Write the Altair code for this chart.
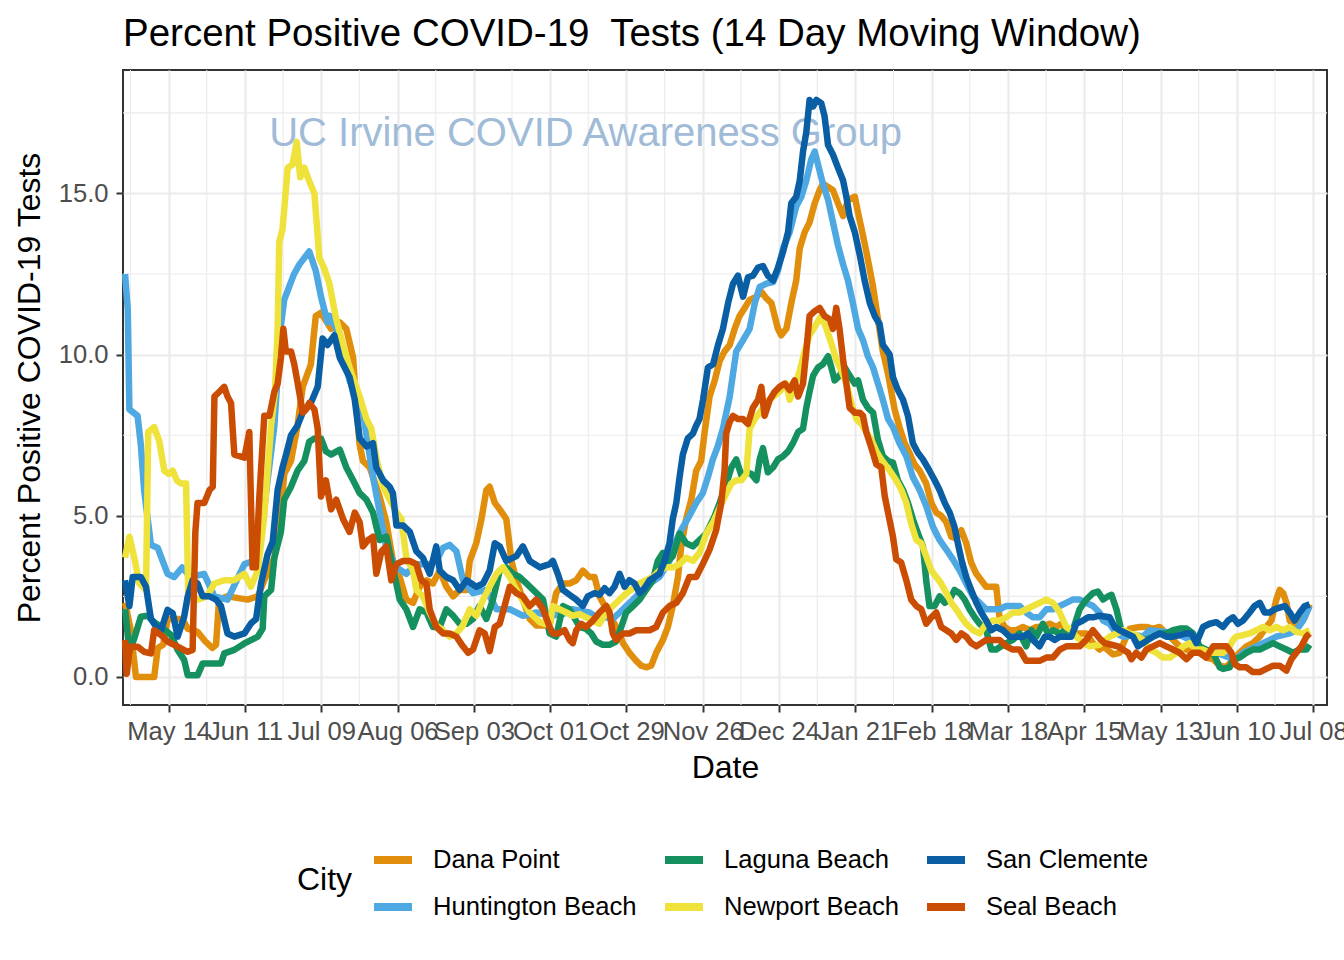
import altair as alt
import pandas as pd

# ---------------- data (day offset from 2020-04-28, percent positive) ----------------
BASE_DATE = "2020-04-28"

dana_point = [
    (0, 2.3), (2, 1.5), (4, 0.0), (10.7, 0.0), (12, 0.9), (14, 1.0), (15.6, 1.8), (18.1, 1.8),
    (21, 1.8), (23, 1.5), (26.6, 1.4), (29.5, 1.1), (32, 0.9), (33.4, 1.0), (34.5, 2.4), (37.6, 2.5),
    (45, 2.4), (48.7, 2.5), (51.1, 3.0), (54.8, 3.7), (57.2, 5.0), (58.4, 6.3), (60.9, 6.7), (63.3, 7.8),
    (65.2, 9.0), (68.2, 9.7), (70, 11.2), (71.9, 11.3), (75.6, 10.8),
    (78.8, 11.0), (81.2, 10.8), (83.7, 9.9), (84.9, 8.4), (86.1, 7.2), (87.3, 6.7), (89.8, 6.5), (93.4, 5.6),
    (95.9, 4.8), (98.3, 3.6), (100.8, 3.1), (103.2, 2.4), (105.7, 2.3), (108.1, 2.8), (110.6, 3.0), (113, 2.9),
    (115.5, 3.3), (117.9, 2.8), (120.4, 2.5), (122.8, 2.7), (125.3, 2.7), (126.5, 3.6), (128.9, 4.15),
    (130.8, 4.9), (132.6, 5.8), (133.8, 5.9), (135.7, 5.4), (137.5, 5.2), (139.9, 4.9), (141.8, 3.6),
    (143.6, 3.0), (146, 2.4), (148.5, 1.8), (150.9, 1.6), (155.8, 1.6),
    (158.2, 2.6), (160.7, 2.9), (163.1, 2.9), (165.6, 3.0), (168, 3.3), (170.4, 3.1), (172.3, 3.1),
    (174.1, 2.5), (176, 2.2), (177.8, 1.9), (179.6, 1.65), (181.5, 1.35), (182.7, 1.05), (185.1, 0.75),
    (187.6, 0.5), (189.4, 0.35), (191.2, 0.3), (193.1, 0.35), (194.9, 0.75), (197.4, 1.15), (199.2, 1.55),
    (201, 2.2), (202.9, 3.1), (204.1, 4.05), (205.9, 4.9), (207.8, 5.5), (209.6, 6.4), (211.4, 6.7),
    (212.7, 7.6), (214.5, 8.7), (216.4, 9.2), (218.2, 9.8), (220, 10.1), (221.9, 10.3), (223.7, 10.8),
    (225.5, 11.2), (227.4, 11.45), (229.2, 11.7), (231.7, 11.8), (233.5, 11.95), (235.3, 11.75),
    (237.2, 11.6), (238.4, 11.2), (239.6, 10.8), (240.8, 10.6), (242.7, 10.8), (244.5, 11.6), (246.3, 12.3),
    (247.6, 13.3), (249.4, 13.8), (251.2, 14.1), (253.1, 14.7), (254.9, 15.1), (256.1, 15.3), (258, 15.2),
    (259.8, 15.1), (261.6, 14.7), (263.5, 14.3), (265.3, 14.8), (267.8, 14.9), (269, 14.4), (270.8, 13.7),
    (272.6, 12.95), (274.5, 12.1), (276.3, 11.1), (278.1, 10.1), (280, 9.4),
    (282.4, 8.3), (284.2, 7.75), (286.1, 7.25), (287.9, 6.95), (289.7, 6.6), (291.6, 6.4), (294, 6.0),
    (295.9, 5.4), (297.7, 5.1), (299.5, 5.0), (301.4, 4.8), (303.2, 4.35), (305, 4.3), (306.9, 4.55),
    (308.7, 4.15), (310.5, 3.55), (312.4, 3.2), (314.2, 3.0), (316, 2.8), (317.9, 2.8), (319.7, 2.8),
    (320.9, 1.85), (322.8, 1.55), (324.6, 1.45), (327.1, 1.45), (329.5, 1.55), (332, 1.45), (334.4, 1.55),
    (336.8, 1.55), (339.3, 1.65), (341.7, 1.55), (343.6, 1.65), (345.4, 1.45), (347.8, 1.35), (350.3, 1.35),
    (352.7, 1.35), (355.2, 1.05), (357.6, 0.85),
    (359, 0.95), (362.6, 0.7), (365, 0.75), (366.2, 1.0), (368.7, 1.5), (372.3, 1.55), (374.8, 1.55),
    (377.2, 1.5), (379.7, 1.55), (382.1, 1.35), (384.6, 1.15), (387, 0.95), (389.5, 0.85), (391.9, 0.75),
    (394.4, 0.75), (396.8, 0.6), (399.3, 0.55), (401.7, 0.35), (404.2, 0.3), (406.6, 0.55), (409, 0.75),
    (411.5, 0.95), (413.9, 1.05), (416.4, 1.25), (418.8, 1.55), (420.7, 1.75), (422.5, 2.4), (423.7, 2.7),
    (425, 2.6), (426.2, 2.3), (427.4, 1.75), (429.2, 1.55), (431.1, 1.75), (432.9, 1.85), (434.7, 2.25),
]

huntington_beach = [
    (0, 12.5), (1, 11.4), (1.6, 8.3), (4.6, 8.1), (5.8, 7.2), (7, 5.8), (9.5, 4.1), (12, 4.0), (15.6, 3.2),
    (18, 3.1), (21, 3.4), (24, 3.1), (29, 3.2), (32.8, 2.5), (37.6, 2.4), (43.8, 3.5), (47.4, 3.6), (51, 5.2),
    (54.8, 7.8), (57.2, 10.9), (58.4, 11.7), (62, 12.5), (64, 12.8), (67.6, 13.2), (70, 12.6), (71.9, 11.8),
    (74.3, 11.0), (75.1, 11.2), (77.5, 10.8), (82.4, 9.2), (87.3, 8.2), (91, 6.2), (93.5, 5.1), (95.9, 4.0),
    (99.6, 3.4), (103.2, 3.2), (106.9, 3.5), (111.8, 3.5), (114.2, 3.6), (116.7, 4.0), (119.1, 4.1),
    (121.6, 3.9), (124, 3.0), (127.7, 2.6), (132.6, 2.7), (136.3, 2.1), (141.2, 2.1), (146, 1.9), (151, 2.0),
    (155.8, 1.9), (160.7, 1.95), (164.3, 2.1), (167.4, 2.05), (170.4, 2.0), (174.1, 1.8), (176.6, 1.85),
    (179, 1.8), (181.5, 2.0), (183.9, 2.2), (186.4, 2.4), (188.8, 2.6), (192.5, 2.9), (196.1, 3.1),
    (199.8, 3.6), (202.3, 4.25), (204.7, 4.65), (207.1, 5.0), (209.6, 5.4), (212, 5.7), (213.9, 6.2),
    (215.7, 6.75), (217.5, 7.15), (219.4, 7.7), (221.9, 8.7), (224.3, 10.1), (226.8, 10.45), (229.2, 10.8),
    (231.1, 11.6), (232.9, 12.1), (235.3, 12.2), (237.8, 12.25), (239.6, 12.6), (241.5, 13.3), (243.9, 13.8),
    (246.3, 14.6), (248.2, 14.9), (250, 15.4), (251.8, 16.05), (253.1, 16.3), (254.3, 15.9), (256.1, 15.3),
    (258, 14.8), (259.8, 14.1), (261.6, 13.4), (263.5, 12.8), (265.3, 12.3), (267.1, 11.6), (269, 10.8),
    (270.8, 10.45), (272.6, 9.95), (274.5, 9.6), (276.3, 9.1), (278.1, 8.6), (280, 8.0),
    (281.8, 7.75), (284.2, 7.25), (286.7, 6.85), (289.1, 6.2), (291.6, 5.8), (294, 5.3), (296.5, 4.65),
    (298.9, 4.25), (301.4, 3.95), (303.8, 3.65), (306.3, 3.3), (308.7, 2.9), (311.2, 2.5), (313.6, 2.3),
    (316, 2.1), (318.5, 2.1), (320.9, 2.1), (323.4, 2.2), (325.8, 2.2), (328.3, 2.2), (330.7, 2.0),
    (333.2, 1.85), (335.6, 1.85), (338.1, 2.1), (340.5, 2.1), (343, 2.2), (345.4, 2.3), (347.8, 2.4),
    (350.3, 2.4), (352.7, 2.3), (355.2, 2.2), (357.6, 2.0),
    (358.9, 1.75), (361.3, 1.65), (363.8, 1.35), (366.2, 1.25), (371.1, 1.3), (373.6, 1.25), (376, 1.45),
    (380.9, 1.4), (385.8, 1.35), (388.3, 1.25), (390.7, 1.15), (393.1, 0.95), (395.6, 0.85), (400.5, 0.75),
    (405.4, 0.6), (407.8, 0.55), (410.3, 0.75), (412.7, 0.85), (415.2, 0.95), (417.6, 1.05), (420.1, 1.15),
    (422.5, 1.25), (427.4, 1.35), (429.8, 1.45), (432.3, 1.75), (434.7, 2.2),
]

laguna_beach = [
    (0, 2.1), (1.6, 0.8), (3.4, 1.2), (5.8, 1.87), (8.3, 1.9), (10.7, 1.7), (13.2, 1.56), (16.9, 1.3),
    (19.3, 0.84), (21.7, 0.53), (23, 0.05), (26.6, 0.05), (28.5, 0.42), (31, 0.42), (35.2, 0.42),
    (36.4, 0.73), (40.1, 0.84), (43.8, 1.04), (48.7, 1.25), (50.5, 1.5), (51.1, 2.5), (53.6, 2.7),
    (54.8, 3.7), (57.2, 4.5), (58.4, 5.5), (60.9, 5.9), (63.3, 6.4), (65.8, 6.7), (67.6, 7.3), (69.5, 7.4),
    (71.9, 7.4), (73.7, 7.0), (75.6, 6.9),
    (78.8, 7.05), (81.2, 6.5), (83.7, 6.1), (86.1, 5.7), (88.6, 5.5), (91, 5.1), (93.4, 4.25), (95.9, 4.35),
    (98.3, 3.4), (100.8, 2.4), (103.2, 2.1), (105.7, 1.55), (108.1, 2.1), (110.6, 2.0), (113, 1.55),
    (115.5, 1.55), (117.9, 2.1), (120.4, 1.9), (122.8, 1.65), (125.3, 1.65), (127.7, 1.8), (130.1, 2.2),
    (132.6, 1.8), (135, 2.4), (137.5, 3.3), (139.9, 3.4), (142.4, 3.2), (144.8, 3.1), (147.3, 2.9),
    (151, 2.6), (153.4, 2.4), (155.8, 1.35),
    (158.2, 1.25), (160.7, 2.2), (163.1, 2.1), (166.8, 1.55), (169, 1.5), (171.1, 1.35), (172.9, 1.1),
    (175.3, 1.0), (177.8, 1.0), (180.2, 1.1), (182.1, 1.55), (183.9, 2.0), (186.4, 2.2), (188.8, 2.4),
    (191.2, 2.7), (193.7, 3.0), (195.5, 3.6), (197.4, 3.85), (199.2, 3.6), (201, 3.75), (203.5, 4.45),
    (205.9, 4.15), (208.4, 4.05), (210.8, 4.25), (213.3, 4.45), (216.4, 5.0), (218.2, 5.4), (220.7, 6.0),
    (222.5, 6.5), (224.3, 6.75), (226.2, 6.25), (228, 6.35), (229.8, 6.3), (231.7, 6.1), (232.9, 6.75),
    (234.1, 7.1), (235.9, 6.35), (237.8, 6.5), (239.6, 6.75), (241.5, 6.85), (243.3, 7.0), (245.1, 7.25),
    (247, 7.6), (248.8, 7.7), (250, 8.35), (251.2, 8.85), (252.5, 9.35), (254.3, 9.6), (256.1, 9.7),
    (258, 9.95), (259.2, 9.6), (260.4, 9.2), (262.2, 9.35), (264.1, 9.6), (265.9, 9.35), (267.8, 9.1),
    (269, 9.2), (270.8, 8.6), (272.6, 8.35), (274.5, 8.2), (276.3, 7.35), (278.1, 6.85), (280, 6.7),
    (281.8, 6.65), (283.6, 6.1), (285.5, 5.8), (287.3, 5.4), (289.1, 4.9), (291, 4.45), (292.8, 4.05),
    (294, 3.0), (295.2, 2.2), (297.1, 2.2), (298.9, 2.5), (300.8, 2.3), (302.6, 2.4), (304.4, 2.7),
    (306.3, 2.6), (308.1, 2.4), (309.9, 2.1), (311.8, 1.85), (313.6, 1.65), (316, 1.45), (317.9, 0.85),
    (319.7, 0.85), (321.5, 0.95), (323.4, 1.05), (325.8, 1.15), (328.3, 1.35), (330.7, 0.95), (332.6, 1.45),
    (334.4, 1.25), (336.8, 1.65), (338.7, 1.35), (340.5, 1.45), (343, 1.35), (345.4, 1.45), (347.8, 1.45),
    (350.3, 2.1), (352.7, 2.4), (355.2, 2.6), (357, 2.65),
    (358.9, 2.4), (360.7, 2.5), (362, 2.55), (363.8, 2.1), (365.6, 1.45), (367.5, 1.35), (369.9, 1.3),
    (372.3, 1.2), (374.8, 1.15), (377.2, 1.25), (379.7, 1.35), (382.1, 1.35), (384.6, 1.45), (387, 1.5),
    (389.5, 1.5), (391.9, 1.35), (394.4, 0.95), (396.8, 0.85), (399.3, 0.75), (401.7, 0.3), (402.9, 0.25),
    (405.4, 0.3), (406.6, 0.55), (409, 0.6), (411.5, 0.75), (413.9, 0.85), (416.4, 0.85), (418.8, 0.95),
    (421.3, 1.05), (423.7, 0.95), (426.2, 0.85), (428.6, 0.75), (431.1, 0.85), (433.5, 0.85), (434.7, 1.0),
]

newport_beach = [
    (0, 3.7), (1.6, 4.35), (3.4, 3.7), (5.2, 2.9), (7.7, 2.7), (8.5, 7.6), (10.7, 7.75), (12.6, 7.3),
    (14.4, 6.4), (16, 6.3), (17.5, 6.4), (19, 6.1), (20.5, 6.0), (22.4, 6.0), (23.2, 2.5), (26.6, 2.4),
    (30, 2.5), (32.8, 2.9), (36.4, 3.0), (40, 3.0), (43.8, 3.2), (46.2, 2.8), (48.7, 3.3), (51.1, 5.0),
    (53.6, 7.8), (55, 8.8), (56, 10.8), (56.6, 13.5), (57.8, 13.9), (59.7, 15.8), (61.5, 15.9), (63, 16.6),
    (64.3, 15.5), (65.8, 15.8), (67.5, 15.4), (69.5, 15.0), (71.3, 13.0), (73, 12.7), (75, 12.2), (76.8, 11.4),
    (77.5, 11.1), (80, 10.3), (82.4, 9.6), (86.1, 8.7), (88.6, 8.0), (90.4, 7.7), (92.2, 6.8), (94.7, 5.9),
    (97.1, 5.5), (99.6, 5.1), (101.4, 4.9), (103.2, 3.7), (105.7, 3.3), (106.9, 2.7), (109.3, 2.5),
    (111.8, 2.0), (114.2, 1.6), (116.7, 1.45), (119.1, 1.25), (121.6, 1.35), (124, 1.6), (126.5, 2.1),
    (128.9, 1.9), (131.4, 2.4), (133.8, 2.8), (136.3, 3.2), (138.7, 3.4), (141.2, 3.1), (143.6, 2.7),
    (148.5, 2.0), (152.2, 1.7), (155.8, 1.6),
    (157, 2.2), (159.4, 2.1), (161.9, 2.0), (164.3, 1.9), (166.8, 1.95), (169.2, 1.85), (171.7, 1.75),
    (174.1, 1.65), (176.6, 2.0), (179, 2.2), (181.5, 2.4), (184, 2.6), (186.4, 2.75), (188.8, 2.9),
    (191.2, 3.0), (193.7, 3.1), (196.1, 3.3), (198.6, 3.4), (201, 3.4), (203.5, 3.5), (205.9, 3.7),
    (208.4, 3.6), (210.8, 3.85), (213.3, 4.45), (215.8, 4.8), (218.2, 5.25), (220.7, 5.7), (222.5, 6.0),
    (224.3, 6.1), (226.2, 6.1), (228, 6.3), (229.2, 7.7), (231.1, 8.0), (232.9, 8.2), (235.3, 8.5),
    (237.8, 8.7), (240.2, 8.85), (242.7, 9.1), (243.9, 8.6), (245.7, 9.0), (247.6, 9.5), (249.4, 10.1),
    (251.2, 10.6), (253.7, 10.95), (255.5, 11.2), (257.4, 10.8), (259.2, 10.35), (261, 9.85), (262.9, 9.5),
    (264.7, 9.1), (266.5, 8.5), (268.4, 8.0), (270.2, 7.85), (272, 7.6), (273.9, 7.35), (275.7, 7.0),
    (277.5, 6.75), (280.6, 6.4), (283, 6.1), (284.9, 5.8), (286.7, 5.4), (288.5, 4.75), (290.4, 4.25),
    (292.2, 4.15), (294, 3.75), (295.9, 3.3), (297.7, 3.1), (299.5, 2.9), (301.4, 2.6), (303.2, 2.3),
    (305, 2.1), (306.9, 1.85), (308.7, 1.65), (311.2, 1.45), (313.6, 1.35), (316, 1.65), (318.5, 1.75),
    (320.9, 1.75), (323.4, 1.85), (325.8, 2.0), (328.3, 2.0), (330.7, 2.1), (333.2, 2.2), (335.6, 2.3),
    (338.1, 2.4), (340.5, 2.3), (343, 2.0), (345.4, 1.55), (347.2, 1.45), (349.1, 1.25), (351.5, 1.05),
    (354, 0.95), (357.6, 1.0),
    (361.3, 1.25), (363.8, 1.35), (366.2, 1.45), (368.7, 1.35), (371.1, 1.3), (373.6, 1.15), (376, 0.85),
    (378.5, 0.75), (380.9, 0.6), (383.4, 0.6), (385.8, 0.75), (388.3, 0.95), (390.7, 1.05), (393.1, 0.85),
    (395.6, 0.85), (398, 0.75), (400.5, 0.75), (402.9, 0.75), (405.4, 0.95), (406.6, 1.15), (407.8, 1.25),
    (410.3, 1.3), (412.7, 1.35), (415.2, 1.45), (417.6, 1.55), (420.1, 1.45), (422.5, 1.55), (425, 1.45),
    (427.4, 1.55), (429.8, 1.4), (432.3, 1.35), (434.7, 1.45),
]

san_clemente = [
    (0, 3.0), (1.6, 2.2), (2.8, 3.1), (5.8, 3.1), (7.7, 2.8), (9.5, 1.8), (11.4, 1.56), (13.2, 1.45),
    (15.6, 2.08), (17.5, 1.98), (19.3, 1.25), (21.7, 1.87), (23, 2.5), (24.8, 3.0), (26.6, 2.9), (28.5, 2.5),
    (31, 2.5), (33.4, 2.4), (35.2, 2.2), (37.6, 1.35), (40.1, 1.25), (43.8, 1.35), (46.2, 1.66), (48.1, 1.8),
    (49.9, 2.9), (52.3, 3.8), (54.2, 4.2), (56, 5.8), (57.8, 6.5), (59.1, 6.9), (60.9, 7.5), (63.3, 7.8),
    (65.2, 8.2), (68.2, 8.5), (70.7, 9.0), (72.5, 10.5), (74.3, 10.3), (76.8, 10.6),
    (78.8, 9.9), (80, 9.7), (82.4, 9.3), (84.3, 8.6), (86.1, 7.4), (88.6, 7.15), (91, 7.25), (92.2, 6.5),
    (94.7, 6.1), (97.1, 5.9), (98.3, 5.7), (99.6, 4.7), (102, 4.7), (104.5, 4.5), (106.9, 3.9), (109.3, 3.7),
    (111.8, 3.2), (114.2, 4.05), (115.5, 3.3), (117.9, 3.1), (120.4, 3.0), (122.8, 2.7), (125.3, 3.0),
    (128.9, 2.8), (131.4, 2.9), (133.8, 3.3), (135.7, 4.15), (137.5, 4.05), (139.9, 3.6), (143.6, 3.75),
    (146, 4.05), (148.5, 3.6), (152.2, 3.4), (155.8, 3.5),
    (157, 3.6), (158.8, 3.2), (160.7, 2.7), (163.1, 2.55), (165.6, 2.4), (168, 2.2), (169.8, 2.5),
    (172.3, 2.6), (174.1, 2.55), (176, 2.75), (177.8, 2.6), (179.6, 2.8), (181.5, 3.2), (183.3, 2.8),
    (185.1, 3.0), (187, 2.9), (188.8, 2.6), (190.6, 2.75), (192.5, 3.0), (194.3, 3.1), (196.1, 3.2),
    (198, 3.6), (199.8, 4.15), (201, 4.9), (202.3, 5.4), (203.5, 6.2), (204.7, 6.9), (206.5, 7.4),
    (208.4, 7.55), (209.6, 7.8), (210.8, 8.0), (212.1, 8.6), (213.9, 9.6), (215.8, 9.7), (217.6, 10.3),
    (219.4, 10.8), (221.3, 11.6), (223.1, 12.2), (224.9, 12.45), (226.8, 11.8), (228.6, 12.4), (230.4, 12.45),
    (232.3, 12.7), (234.1, 12.75), (235.9, 12.45), (237.8, 12.3), (239.6, 12.7), (241.5, 13.2), (243.3, 13.8),
    (244.5, 14.7), (246.3, 14.9), (247.6, 15.4), (248.8, 16.3), (250, 16.9), (251.2, 17.9), (252.5, 17.7),
    (253.7, 17.9), (255.5, 17.8), (256.7, 17.4), (258, 16.5), (259.8, 16.2), (261.6, 15.8), (263.5, 15.4),
    (264.7, 14.9), (265.9, 14.3), (267.8, 13.8), (269.6, 13.1), (271.4, 12.3), (273.3, 11.6), (275.1, 11.2),
    (276.9, 10.95), (278.1, 10.3), (280.6, 10.0),
    (281.8, 9.3), (283.6, 8.9), (285.5, 8.6), (287.3, 8.1), (289.1, 7.25), (291, 6.95), (292.8, 6.75),
    (295.2, 6.4), (297.1, 6.1), (298.9, 5.8), (300.8, 5.4), (302.6, 5.1), (304.4, 4.65), (305.6, 4.15),
    (306.9, 3.65), (308.7, 3.1), (310.5, 2.7), (312.4, 2.3), (314.2, 2.0), (316, 1.75), (317.9, 1.45),
    (319.7, 1.55), (322.2, 1.45), (324.6, 1.25), (327.1, 1.25), (329.5, 1.25), (331.3, 1.35), (333.2, 1.15),
    (335.6, 0.95), (337.5, 1.25), (339.3, 1.25), (341.1, 1.15), (343, 1.25), (345.4, 1.25), (347.2, 1.25),
    (349.1, 1.65), (351.5, 1.75), (353.4, 1.85), (355.2, 1.85), (357.6, 1.9),
    (361.3, 1.85), (363.2, 1.55), (365, 1.45), (367.5, 1.35), (369.9, 1.25), (371.7, 0.95), (373.6, 1.05),
    (375.4, 1.15), (377.2, 1.25), (379.7, 1.35), (382.1, 1.25), (384.6, 1.25), (387, 1.3), (389.5, 1.35),
    (391.3, 1.35), (393.1, 1.05), (395.6, 1.55), (398, 1.65), (400.5, 1.7), (402.9, 1.55), (404.8, 1.75),
    (406.6, 1.85), (408.4, 1.65), (410.3, 1.75), (412.7, 2.0), (414.5, 2.2), (416.4, 2.3), (418.2, 2.0),
    (420.1, 2.0), (421.9, 2.1), (423.7, 2.15), (425.6, 2.2), (427.4, 2.0), (429.2, 1.75), (431.1, 2.0),
    (432.9, 2.2), (434.7, 2.25),
]

seal_beach = [
    (0, 1.15), (0.6, 0.1), (1.8, 0.94), (4.6, 0.94), (7, 0.78), (9.5, 0.73), (10.7, 1.45), (13.2, 1.3),
    (15.6, 1.1), (19.3, 0.94), (23, 0.78), (24.8, 0.84), (25.8, 4.5), (26.6, 5.4), (29.1, 5.4), (31, 5.8),
    (32.2, 5.9), (32.8, 8.7), (34.6, 8.85), (36.4, 9.0), (37.6, 8.7), (38.9, 8.5), (40.1, 6.9), (42, 6.85),
    (43.8, 6.8), (45.6, 7.6), (46.8, 3.4), (48, 3.4), (49.3, 5.6), (51.1, 8.1), (53, 8.1), (54.8, 8.85),
    (56, 9.1), (57.2, 9.9), (58.1, 10.8), (59, 10.1), (60.9, 10.1), (62.1, 9.7), (63.9, 8.85), (65.2, 8.2),
    (66.4, 8.3), (67.6, 8.5), (69.5, 8.3), (70.7, 7.7), (71.9, 5.6), (73.7, 6.1), (75.6, 5.2),
    (77.5, 5.5), (80, 4.9), (82.4, 4.5), (84.3, 5.1), (86.1, 4.8), (87.3, 4.05), (89.2, 4.25), (91, 4.35),
    (92.2, 3.2), (94.1, 3.9), (95.9, 4.05), (97.7, 3.0), (99.6, 3.5), (102, 3.6), (104.5, 3.6), (106.9, 3.5),
    (108.7, 3.0), (110.6, 2.9), (111.8, 2.1), (114.2, 1.55), (116.7, 1.35), (119.1, 1.35), (121.6, 1.25),
    (124, 0.95), (125.9, 0.75), (127.7, 0.85), (130.1, 1.45), (132, 1.35), (133.8, 0.8), (135.7, 1.55),
    (137.5, 1.65), (139.9, 2.4), (141.2, 2.8), (143.6, 2.6), (146, 2.5), (148.5, 2.2), (150.9, 2.4),
    (153.4, 2.1), (155.8, 1.55),
    (157, 1.35), (159.1, 1.35), (161.3, 1.45), (163.1, 1.15), (164.3, 1.05), (165.6, 1.45), (167.4, 1.65),
    (169.2, 1.55), (171.7, 1.75), (174.1, 2.0), (176.6, 2.2), (177.8, 2.0), (179, 1.35), (180.2, 1.15),
    (182.7, 1.35), (185.1, 1.35), (187.6, 1.45), (190, 1.45), (192.5, 1.45), (194.9, 1.55), (197.4, 2.0),
    (199.8, 2.2), (202.3, 2.3), (204.7, 2.6), (207.1, 3.1), (209.6, 3.1), (212, 3.5), (214.5, 3.95),
    (216.9, 4.55), (218.8, 5.4), (220, 6.4), (220.6, 7.55), (221.8, 7.9),
    (223.1, 8.1), (224.9, 8.0), (226.8, 8.0), (228.6, 7.85), (230.4, 8.35), (232.3, 8.6), (233.5, 9.0),
    (234.7, 8.1), (236.6, 8.6), (238.4, 8.85), (240.2, 9.0), (242.1, 9.1), (243.9, 8.9), (245.7, 9.2),
    (247, 8.7), (248.8, 9.1), (250, 10.1), (251.2, 11.2), (253.1, 11.35), (254.9, 11.45), (256.7, 11.2),
    (258.6, 11.1), (259.8, 10.8), (261, 11.45), (262.2, 10.8), (263.5, 9.85), (264.7, 9.1), (265.9, 8.35),
    (267.8, 8.2), (269.6, 8.2), (270.8, 8.1), (272, 7.6), (273.9, 7.1), (275.7, 6.6), (277.5, 6.5),
    (278.8, 5.6), (280.6, 4.85),
    (281.8, 4.35), (283, 3.65), (284.8, 3.55), (286.7, 3.0), (288.5, 2.4), (290.4, 2.2), (292.2, 2.1),
    (294, 1.65), (295.9, 1.85), (297.7, 2.0), (299.5, 1.55), (301.4, 1.45), (303.2, 1.35), (305, 1.15),
    (306.9, 1.35), (308.7, 1.25), (310.5, 1.05), (312.4, 0.95), (314.2, 1.05), (316, 1.15), (318.5, 1.15),
    (320.9, 1.15), (323.4, 0.95), (325.8, 0.85), (328.3, 0.85), (330.7, 0.5), (333.2, 0.5), (335.6, 0.5),
    (338.1, 0.6), (340.5, 0.6), (343, 0.85), (345.4, 0.95), (347.8, 0.95), (350.3, 0.95), (352.7, 1.15),
    (355.2, 1.45), (357.6, 1.2),
    (359.5, 1.05), (362, 1.0), (364.4, 0.95), (366.2, 0.85), (368.1, 0.75), (369.3, 0.55), (371.1, 0.75),
    (373, 0.6), (374.8, 0.85), (377.2, 0.95), (379.7, 1.05), (382.1, 0.95), (384.6, 0.85), (387, 0.75),
    (389.5, 0.55), (391.9, 0.75), (394.4, 0.75), (396.8, 0.6), (399.3, 0.95), (401.7, 0.95), (404.2, 0.95),
    (406, 0.75), (407.2, 0.4), (409, 0.3), (411.5, 0.3), (413.9, 0.15), (416.4, 0.15), (418.8, 0.25),
    (421.3, 0.35), (423.7, 0.35), (426.2, 0.2), (428, 0.55), (429.8, 0.75), (431.7, 0.95), (433.5, 1.25),
    (434.7, 1.35),
]

city_names = ["Dana Point", "Huntington Beach", "Laguna Beach", "Newport Beach", "San Clemente", "Seal Beach"]
city_series = [dana_point, huntington_beach, laguna_beach, newport_beach, san_clemente, seal_beach]
city_colors = ["#E08E0B", "#4EA8E2", "#15905F", "#EEE23B", "#0A5EA3", "#CB4D03"]

x_tick_dates = ["2020-05-14", "2020-06-11", "2020-07-09", "2020-08-06", "2020-09-03", "2020-10-01",
                "2020-10-29", "2020-11-26", "2020-12-24", "2021-01-21", "2021-02-18", "2021-03-18",
                "2021-04-15", "2021-05-13", "2021-06-10", "2021-07-08"]
y_tick_values = [0, 5, 10, 15]

title_text = "Percent Positive COVID-19\u00a0 Tests (14 Day Moving Window)"
y_title = "Percent Positive COVID-19 Tests"
x_title = "Date"
legend_title = "City"
watermark_text = "UC Irvine COVID Awareness Group"
watermark_date = "2020-10-14"
watermark_value = 16.85

# ---------------- build tables ----------------
base = pd.Timestamp(BASE_DATE)
rows = []
for name, pts in zip(city_names, city_series):
    for d, v in pts:
        t = base + pd.Timedelta(days=d)
        rows.append({"city": name, "date": t.strftime("%Y-%m-%dT%H:%M:%S"), "pct": v})
df = pd.DataFrame(rows)


def dt(ts):
    ts = pd.Timestamp(ts)
    return alt.DateTime(year=ts.year, month=ts.month, date=ts.day, hours=ts.hour, minutes=ts.minute)


ticks = [pd.Timestamp(s) for s in x_tick_dates]
x_lo = pd.Timestamp("2020-04-27T06:00:00")
x_hi = pd.Timestamp("2021-07-13T02:00:00")
minor_dates = [ticks[0] - pd.Timedelta(days=14)] + [t + pd.Timedelta(days=14) for t in ticks]
minor_dates = [m for m in minor_dates if x_lo <= m <= x_hi]
minor_x_df = pd.DataFrame({"date": [m.strftime("%Y-%m-%dT%H:%M:%S") for m in minor_dates]})
minor_y_df = pd.DataFrame({"pct": [v + 2.5 for v in y_tick_values]})
ann_df = pd.DataFrame({"date": [pd.Timestamp(watermark_date).strftime("%Y-%m-%dT%H:%M:%S")],
                       "pct": [watermark_value], "label": [watermark_text]})

FONT = "Liberation Sans"
GRID = "#EBEBEB"

x_enc = alt.X(
    "date:T", title=x_title,
    scale=alt.Scale(domain=[dt(x_lo), dt(x_hi)], nice=False),
    axis=alt.Axis(values=[dt(t) for t in ticks], format="%b %d", labelOverlap=False, labelFlush=False,
                  labelBound=False, labelFontSize=25.6, labelColor="#4D4D4D", labelPadding=7,
                  tickSize=7, tickWidth=2, tickColor="#333333", domain=False,
                  grid=True, gridColor=GRID, gridWidth=2.2,
                  titleFontSize=32, titleFontWeight="normal", titleColor="black", titlePadding=8),
)
y_enc = alt.Y(
    "pct:Q", title=y_title,
    scale=alt.Scale(domain=[-0.87, 18.83], nice=False, zero=False),
    axis=alt.Axis(values=y_tick_values, format=".1f", labelFontSize=25.6, labelColor="#4D4D4D",
                  labelPadding=8, tickSize=7, tickWidth=2, tickColor="#333333", domain=False,
                  grid=True, gridColor=GRID, gridWidth=2.2,
                  titleFontSize=32, titleFontWeight="normal", titleColor="black", titlePadding=12),
)

minor_x = alt.Chart(minor_x_df).mark_rule(color=GRID, strokeWidth=1.1).encode(x=x_enc)
minor_y = alt.Chart(minor_y_df).mark_rule(color=GRID, strokeWidth=1.1).encode(y=y_enc)

watermark = alt.Chart(ann_df).mark_text(
    font=FONT, fontSize=40, color="#A0BBD7", align="center", baseline="middle"
).encode(x=x_enc, y=y_enc, text="label:N")

lines = alt.Chart(df).mark_line(strokeWidth=6.5, strokeJoin="round").encode(
    x=x_enc, y=y_enc,
    color=alt.Color(
        "city:N",
        scale=alt.Scale(domain=city_names, range=city_colors),
        legend=alt.Legend(
            title=legend_title, orient="none", legendX=174, legendY=767, columns=3,
            symbolType="stroke", symbolSize=1444, symbolStrokeWidth=8,
            labelFontSize=25.6, labelColor="black", labelFont=FONT, labelOffset=17, labelLimit=400,
            titleFontSize=32, titleFontWeight="normal", titleColor="black", titleFont=FONT,
            titleOrient="left", titleAnchor="middle", titlePadding=17,
            columnPadding=12, rowPadding=8,
        ),
    ),
)

chart = alt.layer(minor_x, minor_y, watermark, lines).properties(
    width=1204, height=635,
    title=alt.Title(title_text, anchor="start", frame="group", fontSize=38.5, fontWeight="normal",
                    color="black", font=FONT, offset=24, baseline="alphabetic", dy=39),
    padding={"left": 123, "top": 70, "right": 17, "bottom": 255},
    autosize=alt.AutoSizeParams(type="none"),
).configure(font=FONT).configure_view(stroke="#333333", strokeWidth=2)

chart.save("out.html", embed_options={"renderer": "svg", "actions": False})
